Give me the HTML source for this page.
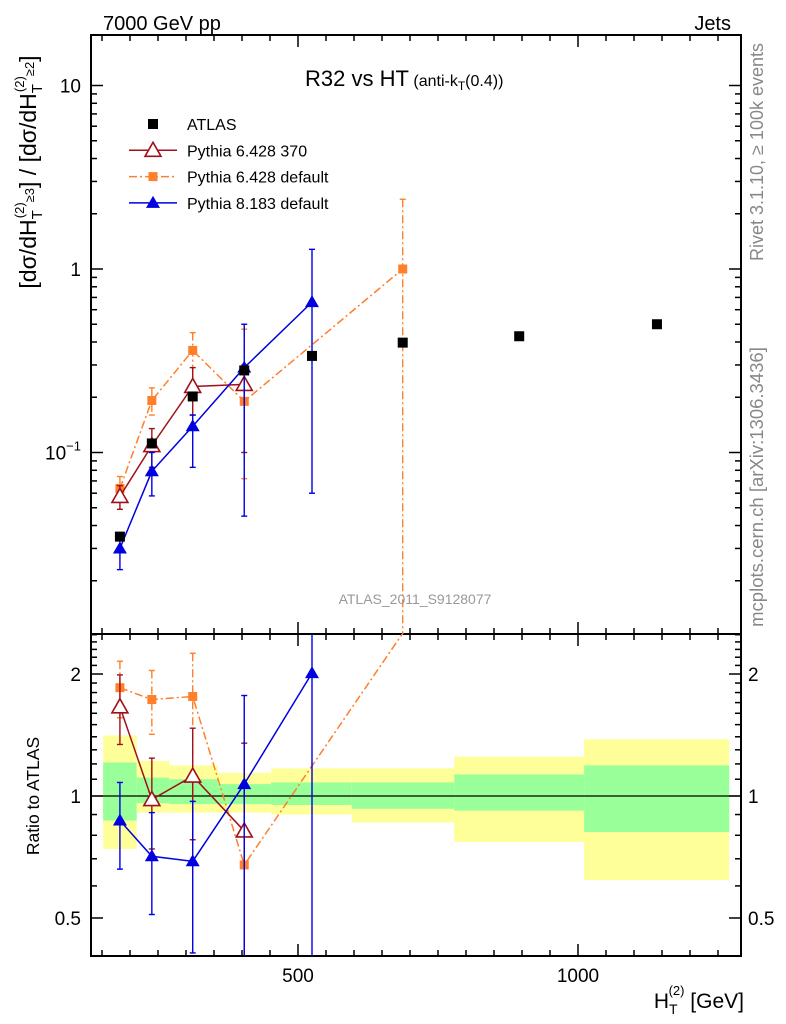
<!DOCTYPE html>
<html><head><meta charset="utf-8"><style>
body{margin:0;background:#fff}
svg{display:block;font-family:"Liberation Sans",sans-serif}
</style></head><body>
<svg id="c" width="786" height="1024" viewBox="0 0 786 1024">
<g id="bands"></g>
<g id="axes"></g>
<g id="series"></g>
<text x="103" y="30" font-size="20">7000 GeV pp</text>
<text x="731" y="30" font-size="20" text-anchor="end">Jets</text>
<text x="305" y="86" font-size="22">R32 vs HT<tspan font-size="16"> (anti-k</tspan><tspan font-size="12" dy="4">T</tspan><tspan font-size="16" dy="-4">(0.4))</tspan></text>
<text x="415" y="604" font-size="14" fill="#999" text-anchor="middle">ATLAS_2011_S9128077</text>
<text transform="translate(763,152) rotate(-90)" font-size="18" fill="#888" text-anchor="middle">Rivet 3.1.10, ≥ 100k events</text>
<text transform="translate(763,487) rotate(-90)" font-size="18.5" fill="#888" text-anchor="middle">mcplots.cern.ch [arXiv:1306.3436]</text>
<text transform="translate(36,172) rotate(-90)" font-size="23" text-anchor="middle">[dσ/dH<tspan font-size="15" dy="6">T</tspan><tspan font-size="13" dy="-18" dx="-8">(2)</tspan><tspan font-size="13" dy="10">≥3</tspan><tspan dy="2">] / [dσ/dH</tspan><tspan font-size="15" dy="6">T</tspan><tspan font-size="13" dy="-18" dx="-8">(2)</tspan><tspan font-size="13" dy="10">≥2</tspan><tspan dy="2">]</tspan></text>
<text transform="translate(39,796) rotate(-90)" font-size="17.5" text-anchor="middle">Ratio to ATLAS</text>
<text x="744" y="1008" font-size="21" text-anchor="end">H<tspan font-size="14" dy="6">T</tspan><tspan font-size="13" dy="-19" dx="-9">(2)</tspan><tspan dy="13"> [GeV]</tspan></text>
<g id="legend"></g>
</svg>
<script>
const xsATLAS=[182,239,312,404,525,687,895,1141];
const yATLAS=[0.0348,0.112,0.202,0.28,0.336,0.397,0.43,0.50];
const xsMC=[182,239,312,404,525,687];
const yRed=[0.0576,0.109,0.229,0.235];
const yRedLo=[0.049,0.083,0.16,0.10];
const yRedHi=[0.066,0.135,0.29,0.30];
const yOrange=[0.0636,0.192,0.36,0.19,null,1.0];
const yOrangeLo=[0.056,0.16,0.22,0.072,null,0.001];
const yOrangeHi=[0.074,0.225,0.45,0.47,null,2.4];
const yBlue=[0.030,0.079,0.139,0.29,0.66];
const yBlueLo=[0.023,0.058,0.083,0.045,0.06];
const yBlueHi=[0.036,0.10,0.16,0.50,1.28];
const rRed=[1.66,0.98,1.12,0.82];
const rRedLo=[1.34,0.74,0.78,0.3];
const rRedHi=[1.99,1.24,1.47,1.35];
const rOrange=[1.85,1.73,1.76,0.676,null,2.52];
const rOrangeLo=[1.56,1.42,1.14,0.676,null,2.52];
const rOrangeHi=[2.15,2.04,2.25,0.676,null,2.52];
const rBlue=[0.87,0.71,0.69,1.07,2.01];
const rBlueLo=[0.66,0.51,0.41,0.3,0.3];
const rBlueHi=[1.08,0.91,0.97,1.77,3];
const binEdges=[152,212,270,357,452,596,779,1011,1270];
const yelUp=[1.41,1.22,1.19,1.14,1.17,1.17,1.25,1.38];
const yelDn=[0.74,0.91,0.91,0.91,0.90,0.86,0.77,0.62];
const grnUp=[1.21,1.11,1.10,1.07,1.08,1.08,1.13,1.19];
const grnDn=[0.87,0.96,0.955,0.955,0.95,0.93,0.92,0.815];
const xTicks=[500,1000];
const mainTicks=[10,1,0.1];
const ratioTicks=[2,1,0.5];

const NS="http://www.w3.org/2000/svg";
const L=91,R=741,T=35,MB=634,RB=956;
const X=v=>298+(v-500)*0.56;
const Y=v=>269-Math.log10(v)*183.5;
const RY=v=>796-Math.log2(v)*122;
function mk(p,tag,at){const e=document.createElementNS(NS,tag);for(const k in at)e.setAttribute(k,at[k]);p.appendChild(e);return e;}
const ax=document.getElementById('axes'),se=document.getElementById('series'),bd=document.getElementById('bands'),lg=document.getElementById('legend');
const clipM=v=>Math.max(T,Math.min(MB,v)),clipR=v=>Math.max(MB,Math.min(RB,v));

for(let i=0;i<yelUp.length;i++){
 const y=mk(bd,'rect',{x:X(binEdges[i]),width:X(binEdges[i+1])-X(binEdges[i]),y:RY(yelUp[i]),height:RY(yelDn[i])-RY(yelUp[i]),fill:'#ffff99'});
 
 
 const g=mk(bd,'rect',{x:X(binEdges[i]),width:X(binEdges[i+1])-X(binEdges[i]),y:RY(grnUp[i]),height:RY(grnDn[i])-RY(grnUp[i]),fill:'#99ff99'});
 
 
}
mk(bd,'line',{x1:L,x2:R,y1:RY(1),y2:RY(1),stroke:'#000','stroke-width':1.2});

const f1=mk(ax,'rect',{x:L,y:T,width:R-L,height:MB-T,fill:'none',stroke:'#000','stroke-width':2});


const f2=mk(ax,'rect',{x:L,y:MB,width:R-L,height:RB-MB,fill:'none',stroke:'#000','stroke-width':2});


for(let v=150;v<=1250;v+=50){
 const x=X(v),maj=(v%500===0),len=maj?12:6;
 for(const [y0,d] of [[T,1],[MB,-1],[MB,1],[RB,-1]]) mk(ax,'line',{x1:x,x2:x,y1:y0,y2:y0+d*len,stroke:'#000','stroke-width':1.5});
}
xTicks.forEach(v=>{const t=mk(ax,'text',{x:X(v),y:982,'font-size':19,'text-anchor':'middle'});t.textContent=v;
 
 });
for(let d=-2;d<=1;d++)for(let m=1;m<=9;m++){const v=m*Math.pow(10,d),y=Y(v);if(y<T||y>MB)continue;const len=m===1?12:6;
 mk(ax,'line',{x1:L,x2:L+len,y1:y,y2:y,stroke:'#000','stroke-width':1.5});mk(ax,'line',{x1:R,x2:R-len,y1:y,y2:y,stroke:'#000','stroke-width':1.5});}
mainTicks.forEach(v=>{const t=mk(ax,'text',{x:81,y:Y(v)+7,'font-size':19,'text-anchor':'end'});
 if(v===0.1){t.textContent='10';const s=mk(t,'tspan',{'font-size':13,dy:-9});s.textContent='−1';}else t.textContent=v;
 
 });
const rt=[0.4,0.5,0.6,0.7,0.8,0.9,1,1.1,1.2,1.3,1.4,1.5,1.6,1.7,1.8,1.9,2,2.1,2.2,2.3,2.4,2.5];
rt.forEach(v=>{const y=RY(v);if(y<MB||y>RB)return;const len=(v===0.5||v===1||v===2)?12:6;
 mk(ax,'line',{x1:L,x2:L+len,y1:y,y2:y,stroke:'#000','stroke-width':1.5});mk(ax,'line',{x1:R,x2:R-len,y1:y,y2:y,stroke:'#000','stroke-width':1.5});});
ratioTicks.forEach(v=>{for(const [x,a] of [[81,'end'],[748,'start']]){const t=mk(ax,'text',{x:x,y:RY(v)+7,'font-size':19,'text-anchor':a});t.textContent=v;
 
 }});

function marker(g,type,x,y,col){
 if(type==='sq')mk(g,'rect',{x:x-5,y:y-5,width:10,height:10,fill:col});
 else if(type==='osq')mk(g,'rect',{x:x-4.5,y:y-4.5,width:9,height:9,fill:col});
 else if(type==='otri')mk(g,'path',{d:`M${x},${y-8}L${x+8},${y+6}L${x-8},${y+6}Z`,fill:'#fff',stroke:col,'stroke-width':1.6});
 else mk(g,'path',{d:`M${x},${y-7}L${x+7},${y+5}L${x-7},${y+5}Z`,fill:col});
}
function series(name,vals,lo,hi,yf,clip,col,dash,type){
 const g=mk(se,'g',{});
 
 
 let pts=[];
 vals.forEach((v,i)=>{if(v==null)return;const x=X(xsMC[i]);pts.push([x,yf(v)]);
  if(lo&&hi[i]!==lo[i]){const a=clip(yf(hi[i])),b=clip(yf(lo[i]));mk(g,'line',{x1:x,x2:x,y1:a,y2:b,stroke:col,'stroke-width':1.4,'stroke-dasharray':dash||'none'});
   [hi[i],lo[i]].forEach(w=>{const yy=yf(w);if(yy>T+2&&yy<RB-2&&clip(yy)===yy)mk(g,'line',{x1:x-3,x2:x+3,y1:yy,y2:yy,stroke:col,'stroke-width':1.4});});}
 });
 mk(g,'polyline',{points:pts.map(p=>p.join(',')).join(' '),fill:'none',stroke:col,'stroke-width':1.5,'stroke-dasharray':dash||'none'});
 pts.forEach(p=>{if(clip(p[1])===p[1])marker(g,type,p[0],p[1],col);});
 return g;
}
const defs=mk(document.getElementById('c'),'defs',{});
const c1=mk(defs,'clipPath',{id:'cm'});mk(c1,'rect',{x:L,y:T,width:R-L,height:MB-T});
const c2=mk(defs,'clipPath',{id:'cr'});mk(c2,'rect',{x:L,y:MB,width:R-L,height:RB-MB});
const DASH='8,3,2,3';
[series('main-pythia6-default',yOrange,yOrangeLo,yOrangeHi,Y,clipM,'#ff7f2a',DASH,'osq'),
 series('main-pythia6-370',yRed,yRedLo,yRedHi,Y,clipM,'#a0101a',null,'otri'),
 series('main-pythia8',yBlue,yBlueLo,yBlueHi,Y,clipM,'#0000e0',null,'tri')].forEach(g=>g.setAttribute('clip-path','url(#cm)'));
[series('ratio-pythia6-default',rOrange,rOrangeLo,rOrangeHi,RY,clipR,'#ff7f2a',DASH,'osq'),
 series('ratio-pythia6-370',rRed,rRedLo,rRedHi,RY,clipR,'#a0101a',null,'otri'),
 series('ratio-pythia8',rBlue,rBlueLo,rBlueHi,RY,clipR,'#0000e0',null,'tri')].forEach(g=>g.setAttribute('clip-path','url(#cr)'));
const ga=mk(se,'g',{});


xsATLAS.forEach((v,i)=>marker(ga,'sq',X(v),Y(yATLAS[i]),'#000'));

const items=[['ATLAS','#000',null,'sq',false],['Pythia 6.428 370','#a0101a',null,'otri',true],['Pythia 6.428 default','#ff7f2a',DASH,'osq',true],['Pythia 8.183 default','#0000e0',null,'tri',true]];
items.forEach((it,i)=>{const y=124+i*26.3;const g=mk(lg,'g',{});
 
 
 if(it[4])mk(g,'line',{x1:129,x2:177,y1:y,y2:y,stroke:it[1],'stroke-width':1.5,'stroke-dasharray':it[2]||'none'});
 marker(g,it[3],153,y,it[1]);
 const t=mk(g,'text',{x:187,y:y+6,'font-size':16});t.textContent=it[0];});
</script>
</body></html>
